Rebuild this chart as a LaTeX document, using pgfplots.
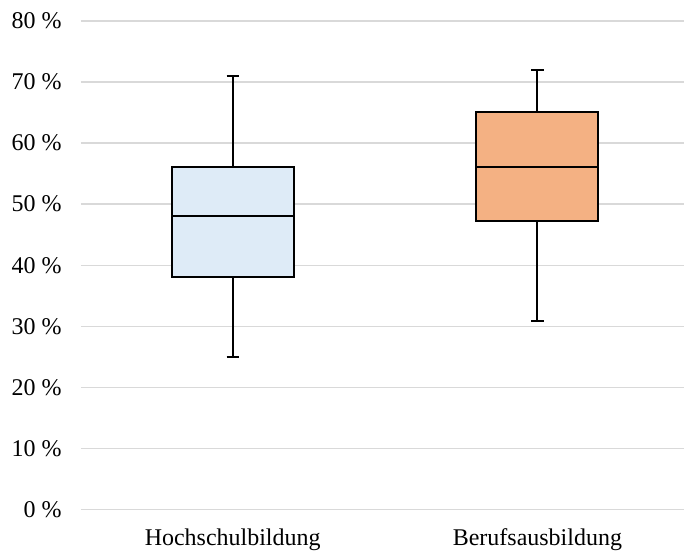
\documentclass[border=0pt]{standalone}
\usepackage{fontspec}
\setmainfont{Liberation Serif}
\usepackage{pgfplots}
\pgfplotsset{compat=1.18}
\usepgfplotslibrary{statistics}
\definecolor{boxblue}{HTML}{DEEBF7}
\definecolor{boxorange}{HTML}{F4B183}
\definecolor{gridgray}{HTML}{D9D9D9}
\begin{document}
\begin{tikzpicture}
\begin{axis}[
  name=ax,
  scale only axis,
  width=302pt, height=244.5pt,
  xmin=-0.498, xmax=1.482,
  ymin=0, ymax=80,
  xtick={0,1},
  xticklabels={Hochschulbildung,Berufsausbildung},
  ytick={0,10,...,80},
  yticklabel={\pgfmathprintnumber{\tick}~\%},
  /pgf/number format/assume math mode=true,
  ymajorgrids,
  grid style={draw=gridgray, line width=0.7pt},
  axis line style={draw=none},
  tick style={draw=none},
  yticklabel style={inner sep=0pt, anchor=east, xshift=-9.5pt, font=\fontsize{12}{14}\selectfont},
  xticklabel style={inner sep=0pt, anchor=base, yshift=-18pt, font=\fontsize{12}{14}\selectfont},
  boxplot/draw direction=y,
  clip=false,
]
\addplot[draw=black, line width=1pt, fill=boxblue,
  boxplot prepared={
    draw position=0,
    lower whisker=25, lower quartile=38.1, median=48.1,
    upper quartile=56.1, upper whisker=71,
    box extend=0.4, whisker extend=0.04}] coordinates {};
\addplot[draw=black, line width=1pt, fill=boxorange,
  boxplot prepared={
    draw position=1,
    lower whisker=30.9, lower quartile=47.3, median=56.1,
    upper quartile=65.1, upper whisker=72,
    box extend=0.4, whisker extend=0.04}] coordinates {};
\end{axis}
\path ([xshift=-40.5pt, yshift=-21.5pt]ax.south west) rectangle ([yshift=10.5pt]ax.north east);
\end{tikzpicture}
\end{document}
